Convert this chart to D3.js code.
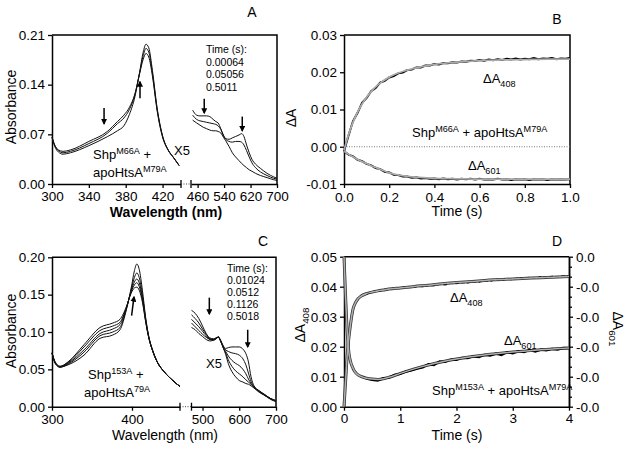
<!DOCTYPE html>
<html><head><meta charset="utf-8">
<script src="https://cdn.jsdelivr.net/npm/d3@7"></script>
<style>
body{margin:0;background:#fff;}
svg{display:block;font-family:"Liberation Sans",Arial,sans-serif;}
</style></head><body>
<svg id="chart" width="629" height="450"></svg>
<script>
// ---------- Panel A data ----------
const aTimes = ["0.00064", "0.05056", "0.5011"];
const aYTicks = [0, 0.07, 0.14, 0.21];
const aXTicksL = [300, 340, 380, 420];
const aXTicksR = [460, 540, 620, 700];
const aWlL = [300,303,307,312,320,340,360,371,378,384,390,395,399,402,405,409,414,420,426,432,438];
const aL1 = [0.066,0.055,0.048,0.046,0.048,0.060,0.0740,0.088,0.097,0.108,0.127,0.155,0.176,0.184,0.179,0.152,0.104,0.066,0.048,0.037,0.026];
const aL2 = [0.066,0.054,0.047,0.044,0.046,0.057,0.0714,0.085,0.093,0.105,0.126,0.156,0.181,0.191,0.186,0.156,0.106,0.067,0.048,0.037,0.026];
const aL3 = [0.066,0.053,0.045,0.042,0.044,0.054,0.0667,0.075,0.082,0.098,0.123,0.157,0.186,0.197,0.192,0.160,0.108,0.068,0.048,0.037,0.026];
const aWlR = [445,457,467,477,487,497,507,515,522,530,538,545,555,565,575,585,593,600,608,616,624,635,650,670,690,700];
const aR1 = [0.104,0.097,0.096,0.096,0.096,0.095,0.091,0.088,0.086,0.078,0.069,0.064,0.063,0.065,0.067,0.069,0.071,0.067,0.055,0.044,0.035,0.028,0.022,0.015,0.010,0.008];
const aR2 = [0.097,0.091,0.089,0.088,0.087,0.086,0.085,0.084,0.082,0.077,0.068,0.063,0.060,0.059,0.060,0.060,0.059,0.055,0.047,0.038,0.030,0.023,0.017,0.012,0.008,0.007];
const aR3 = [0.090,0.086,0.083,0.080,0.078,0.076,0.075,0.075,0.074,0.072,0.066,0.061,0.053,0.044,0.038,0.033,0.029,0.026,0.023,0.020,0.018,0.015,0.012,0.009,0.006,0.005];

// ---------- Panel C data ----------
const cTimes = ["0.01024", "0.0512", "0.1126", "0.5018"];
const cYTicks = [0, 0.05, 0.10, 0.15, 0.20];
const cXTicksL = [300, 400];
const cXTicksR = [500, 600, 700];
const cWlL = [300,304,310,320,340,360,376,385,393,399,403,406,409,413,417,421,426,432,440,450,460];
const cL1 = [0.072,0.060,0.054,0.060,0.083,0.106,0.112,0.117,0.134,0.152,0.159,0.160,0.156,0.140,0.114,0.092,0.074,0.059,0.047,0.036,0.027];
const cL2 = [0.072,0.059,0.054,0.059,0.080,0.102,0.108,0.113,0.133,0.154,0.163,0.166,0.161,0.143,0.115,0.092,0.074,0.059,0.047,0.036,0.027];
const cL3 = [0.072,0.059,0.053,0.058,0.076,0.098,0.104,0.110,0.132,0.155,0.167,0.171,0.166,0.146,0.116,0.093,0.074,0.059,0.047,0.036,0.027];
const cL4 = [0.072,0.058,0.053,0.057,0.073,0.095,0.100,0.106,0.131,0.157,0.173,0.179,0.173,0.150,0.118,0.093,0.075,0.059,0.047,0.036,0.027];
const cL5 = [0.072,0.058,0.053,0.056,0.069,0.0915,0.096,0.103,0.130,0.159,0.182,0.191,0.184,0.156,0.120,0.094,0.075,0.059,0.047,0.036,0.027];
const cWlR = [470,480,490,500,510,520,530,537,543,550,557,563,570,580,590,600,610,618,625,632,640,655,670,685,700];
const cR1 = [0.129,0.125,0.118,0.108,0.098,0.092,0.091,0.092,0.093,0.088,0.081,0.078,0.079,0.080,0.080,0.080,0.077,0.071,0.060,0.040,0.028,0.021,0.016,0.011,0.008];
const cR2 = [0.123,0.118,0.112,0.104,0.097,0.091,0.090,0.092,0.093,0.088,0.080,0.076,0.074,0.072,0.071,0.069,0.064,0.056,0.045,0.034,0.027,0.021,0.016,0.011,0.008];
const cR3 = [0.117,0.112,0.107,0.101,0.095,0.090,0.090,0.092,0.093,0.087,0.079,0.074,0.068,0.062,0.058,0.055,0.050,0.044,0.037,0.031,0.026,0.020,0.015,0.011,0.008];
const cR4 = [0.112,0.107,0.102,0.097,0.093,0.090,0.089,0.091,0.093,0.087,0.078,0.072,0.063,0.054,0.048,0.044,0.040,0.036,0.033,0.030,0.026,0.020,0.015,0.010,0.007];
const cR5 = [0.106,0.103,0.098,0.094,0.090,0.088,0.089,0.091,0.094,0.087,0.078,0.070,0.058,0.047,0.040,0.035,0.033,0.031,0.030,0.028,0.025,0.019,0.015,0.010,0.007];

// ---------- Panel B data ----------
const bYTicks = [-0.01, 0, 0.01, 0.02, 0.03];
const bXTicks = [0, 0.2, 0.4, 0.6, 0.8, 1.0];
const bFitT = [0,0.02,0.04,0.06,0.08,0.1,0.12,0.15,0.2,0.25,0.3,0.35,0.4,0.5,0.6,0.7,0.8,0.9,1.0];
const b408Fit = [-0.0010,0.0032,0.0066,0.0093,0.0115,0.0133,0.0148,0.0166,0.0187,0.0200,0.0209,0.0216,0.0221,0.0227,0.0231,0.0233,0.0234,0.0235,0.0235];
const b601Fit = [-0.0012,-0.0020,-0.0027,-0.0034,-0.0040,-0.0045,-0.0051,-0.0058,-0.0070,-0.0077,-0.0081,-0.0083,-0.0085,-0.0086,-0.0087,-0.0087,-0.0087,-0.0087,-0.0087];
const bDataT = [0,0.02,0.04,0.06,0.08,0.10,0.12,0.14,0.16,0.18,0.20,0.22,0.24,0.26,0.28,0.30,0.32,0.34,0.36,0.38,0.40,0.42,0.44,0.46,0.48,0.50,0.52,0.54,0.56,0.58,0.60,0.62,0.64,0.66,0.68,0.70,0.72,0.74,0.76,0.78,0.80,0.82,0.84,0.86,0.88,0.90,0.92,0.94,0.96,0.98,1.00];
const b408Data = [-0.0012,0.0030,0.0069,0.0091,0.0118,0.0131,0.0149,0.0158,0.0172,0.0177,0.0186,0.0190,0.0197,0.0199,0.0206,0.0207,0.0213,0.0213,0.0218,0.0218,0.0222,0.0221,0.0225,0.0224,0.0227,0.0226,0.0229,0.0228,0.0231,0.0230,0.0233,0.0231,0.0234,0.0232,0.0235,0.0233,0.0236,0.0234,0.0237,0.0234,0.0236,0.0235,0.0238,0.0235,0.0237,0.0236,0.0238,0.0235,0.0237,0.0236,0.0238];
const b601Data = [-0.0012,-0.0021,-0.0026,-0.0035,-0.0039,-0.0046,-0.0050,-0.0057,-0.0060,-0.0067,-0.0069,-0.0075,-0.0076,-0.0080,-0.0080,-0.0083,-0.0082,-0.0085,-0.0084,-0.0086,-0.0085,-0.0087,-0.0085,-0.0087,-0.0086,-0.0088,-0.0086,-0.0087,-0.0086,-0.0088,-0.0086,-0.0088,-0.0087,-0.0088,-0.0086,-0.0088,-0.0087,-0.0089,-0.0087,-0.0088,-0.0087,-0.0089,-0.0087,-0.0088,-0.0087,-0.0089,-0.0087,-0.0088,-0.0087,-0.0088,-0.0087];

// ---------- Panel D data ----------
const dYTicksL = [0, 0.01, 0.02, 0.03, 0.04, 0.05];
const dYTicksR = [-0.015, -0.012, -0.009, -0.006, -0.003, 0];
const dYMinorR = [-0.014,-0.013,-0.011,-0.010,-0.008,-0.007,-0.005,-0.004,-0.002,-0.001];
const dXTicks = [0, 1, 2, 3, 4];
const dFitT = [0,0.03,0.06,0.09,0.12,0.16,0.2,0.25,0.3,0.4,0.5,0.6,0.7,0.8,1.0,1.25,1.5,1.75,2.0,2.5,3.0,3.5,4.0];
const d408Fit = [0,0.009,0.018,0.0235,0.028,0.0325,0.0345,0.0360,0.0368,0.0377,0.0382,0.0386,0.0389,0.0392,0.0396,0.0401,0.0405,0.0410,0.0414,0.0421,0.0426,0.0430,0.0434];
const d601Fit = [0.0000,-0.0042,-0.0078,-0.00975,-0.01056,-0.01116,-0.01155,-0.01182,-0.01197,-0.01215,-0.01224,-0.01227,-0.01221,-0.01206,-0.01167,-0.01122,-0.01083,-0.0105,-0.01023,-0.00984,-0.00954,-0.0093,-0.00912];
const dDataT = [0.4,0.5,0.6,0.7,0.8,0.9,1.0,1.1,1.2,1.3,1.4,1.5,1.6,1.7,1.8,1.9,2.0,2.1,2.2,2.3,2.4,2.5,2.6,2.7,2.8,2.9,3.0,3.1,3.2,3.3,3.4,3.5,3.6,3.7,3.8,3.9,4.0];
const d408Data = [0.0376,0.0383,0.0385,0.0390,0.0391,0.0395,0.0395,0.0399,0.0398,0.0402,0.0401,0.0405,0.0404,0.0409,0.0407,0.0412,0.0411,0.0415,0.0413,0.0418,0.0416,0.0421,0.0419,0.0424,0.0422,0.0427,0.0424,0.0429,0.0427,0.0431,0.0428,0.0432,0.0430,0.0434,0.0432,0.0435,0.0434];
const d601Data = [-0.01218,-0.01233,-0.01239,-0.01215,-0.01209,-0.01182,-0.01173,-0.01149,-0.01137,-0.01119,-0.01107,-0.01074,-0.01083,-0.01047,-0.01053,-0.01029,-0.01032,-0.01011,-0.01014,-0.00996,-0.01005,-0.00981,-0.0099,-0.00969,-0.00984,-0.00954,-0.00966,-0.00945,-0.00954,-0.00933,-0.00948,-0.0093,-0.00936,-0.00921,-0.0093,-0.00912,-0.00915];

// ---------- helpers ----------
const svg = d3.select("#chart");
const FONT = '"Liberation Sans", Arial, sans-serif';
const loc = d3.formatLocale({decimal: ".", thousands: ",", grouping: [3], currency: ["$", ""], minus: "-"});
const TICK_FS = 13.5, TITLE_FS = 14;
const fmtRight = d => (d < 0 ? "-" : "") + Math.abs(d).toFixed(1);

function styleAxis(g) {
  g.attr("font-family", FONT).attr("font-size", TICK_FS);
  g.select(".domain").attr("stroke-width", 1.5).attr("stroke", "#000");
  g.selectAll(".tick line").attr("stroke-width", 1.3).attr("stroke", "#000");
  g.selectAll(".tick text").attr("fill", "#000");
  return g;
}
function rich(x, y, parts, fs, opts = {}) {
  const t = svg.append("text").attr("x", x).attr("y", y).attr("font-size", fs).attr("fill", "#000");
  if (opts.anchor) t.attr("text-anchor", opts.anchor);
  if (opts.weight) t.attr("font-weight", opts.weight);
  if (opts.rotate) t.attr("transform", `rotate(${opts.rotate},${x},${y})`);
  let shift = 0;
  parts.forEach(p => {
    const s = t.append("tspan").text(p.t);
    const target = p.sup ? -0.42 * fs : p.sub ? 0.32 * fs : 0;
    if (target !== shift) { s.attr("dy", target - shift); shift = target; }
    if (p.sup || p.sub) s.attr("font-size", fs * 0.7);
  });
  return t;
}
const defs = svg.append("defs");
defs.append("marker").attr("id", "ah").attr("viewBox", "0 0 10 10").attr("refX", 8).attr("refY", 5)
  .attr("markerWidth", 6).attr("markerHeight", 6).attr("orient", "auto-start-reverse").attr("markerUnits", "userSpaceOnUse")
  .append("path").attr("d", "M0,0L10,5L0,10z").attr("fill", "#000");
function arrow(x1, y1, x2, y2) {
  svg.append("line").attr("x1", x1).attr("y1", y1).attr("x2", x2).attr("y2", y2)
    .attr("stroke", "#000").attr("stroke-width", 1.5).attr("marker-end", "url(#ah)");
}
function zipXY(xs, ys) { return xs.map((x, i) => [x, ys[i]]); }

// ---------- spectra panel builder (A and C) ----------
function spectraPanel(cfg) {
  const {xL, xR, y} = cfg;
  const x0 = xL.range()[0], x1 = xR.range()[1], yb = y.range()[0], yt = y.range()[1];
  svg.append("path").attr("d", `M${x0},${yt}H${x1}V${yb}`).attr("fill", "none").attr("stroke", "#000").attr("stroke-width", 1.5);
  styleAxis(svg.append("g").attr("transform", `translate(${x0},0)`)
    .call(d3.axisLeft(y).tickValues(cfg.yTicks).tickFormat(d3.format(".2f")).tickSize(4).tickSizeOuter(0)));
  styleAxis(svg.append("g").attr("transform", `translate(0,${yb})`)
    .call(d3.axisBottom(xL).tickValues(cfg.xTicksL).tickSize(4).tickPadding(cfg.pad).tickSizeOuter(0)));
  styleAxis(svg.append("g").attr("transform", `translate(0,${yb})`)
    .call(d3.axisBottom(xR).tickValues(cfg.xTicksR).tickSize(4).tickPadding(cfg.pad).tickSizeOuter(0)));
  [xL.range()[1], xR.range()[0]].forEach(bx => {
    svg.append("line").attr("x1", bx).attr("x2", bx).attr("y1", yb - 4).attr("y2", yb + 4).attr("stroke", "#000").attr("stroke-width", 1.3);
  });
  svg.append("line").attr("x1", xL.range()[1]).attr("x2", xR.range()[0]).attr("y1", yb).attr("y2", yb)
    .attr("stroke", "#444").attr("stroke-width", 1).attr("stroke-dasharray", "1,1.5");
  const lineL = d3.line().x(d => xL(d[0])).y(d => y(d[1])).curve(d3.curveMonotoneX);
  const lineR = d3.line().x(d => xR(d[0])).y(d => y(d[1])).curve(d3.curveMonotoneX);
  cfg.left.forEach(s => svg.append("path").attr("d", lineL(zipXY(cfg.wlL, s))).attr("fill", "none").attr("stroke", "#111").attr("stroke-width", 1));
  cfg.right.forEach(s => svg.append("path").attr("d", lineR(zipXY(cfg.wlR, s))).attr("fill", "none").attr("stroke", "#111").attr("stroke-width", 1));
}

// ===== Panel A =====
const axL = d3.scaleLinear().domain([300, 440]).range([52, 181]);
const axR = d3.scaleLinear().domain([440, 700]).range([191, 277]);
const ay = d3.scaleLinear().domain([0, 0.21]).range([184, 35]);
spectraPanel({xL: axL, xR: axR, y: ay, yTicks: aYTicks, xTicksL: aXTicksL, xTicksR: aXTicksR, pad: 3,
  wlL: aWlL, wlR: aWlR, left: [aL1, aL2, aL3], right: [aR1, aR2, aR3]});
svg.append("text").attr("x", 252).attr("y", 17).attr("text-anchor", "middle").attr("font-size", 14).text("A");
svg.append("text").attr("transform", "rotate(-90,16,107)").attr("x", 16).attr("y", 107).attr("text-anchor", "middle").attr("font-size", TITLE_FS).text("Absorbance");
svg.append("text").attr("x", 166).attr("y", 217).attr("text-anchor", "middle").attr("font-size", TITLE_FS).attr("font-weight", "bold").text("Wavelength (nm)");
svg.append("text").attr("x", 206).attr("y", 53).attr("font-size", 10.5).text("Time (s):");
aTimes.forEach((t, i) => svg.append("text").attr("x", 206).attr("y", 65.7 + i * 12.5).attr("font-size", 10.5).text(t));
rich(93, 159, [{t: "Shp"}, {t: "M66A", sup: true}, {t: "  +"}], 13);
rich(93, 177, [{t: "apoHtsA"}, {t: "M79A", sup: true}], 13);
svg.append("text").attr("x", 174).attr("y", 155).attr("font-size", 13).text("X5");
arrow(axL(356.5), ay(0.107), axL(356.5), ay(0.085));
arrow(axL(395.5), ay(0.121), axL(395.5), ay(0.144));
arrow(axR(480), ay(0.120), axR(480), ay(0.100));
arrow(axR(595), ay(0.095), axR(595), ay(0.075));

// ===== Panel C =====
const cxL = d3.scaleLinear().domain([300, 460]).range([52, 180]);
const cxR = d3.scaleLinear().domain([470, 700]).range([191.5, 276]);
const cy = d3.scaleLinear().domain([0, 0.20]).range([406.7, 257.3]);
spectraPanel({xL: cxL, xR: cxR, y: cy, yTicks: cYTicks, xTicksL: cXTicksL, xTicksR: cXTicksR, pad: 4,
  wlL: cWlL, wlR: cWlR, left: [cL1, cL2, cL3, cL4, cL5], right: [cR1, cR2, cR3, cR4, cR5]});
svg.append("text").attr("x", 263).attr("y", 246).attr("text-anchor", "middle").attr("font-size", 14).text("C");
svg.append("text").attr("transform", "rotate(-90,16,331)").attr("x", 16).attr("y", 331).attr("text-anchor", "middle").attr("font-size", TITLE_FS).text("Absorbance");
svg.append("text").attr("x", 165).attr("y", 440).attr("text-anchor", "middle").attr("font-size", TITLE_FS).text("Wavelength (nm)");
svg.append("text").attr("x", 227).attr("y", 271.5).attr("font-size", 10.5).text("Time (s):");
cTimes.forEach((t, i) => svg.append("text").attr("x", 227).attr("y", 283.5 + i * 12).attr("font-size", 10.5).text(t));
rich(88, 379, [{t: "Shp"}, {t: "153A", sup: true}, {t: "  +"}], 13);
rich(84, 397, [{t: "apoHtsA"}, {t: "79A", sup: true}], 13);
svg.append("text").attr("x", 206).attr("y", 368).attr("font-size", 13).text("X5");
arrow(cxL(399.5), cy(0.122), cxL(402.5), cy(0.147));
arrow(cxR(518.5), cy(0.146), cxR(518.5), cy(0.124));
arrow(cxR(623), cy(0.103), cxR(623), cy(0.080));

// ===== Panel B =====
const bx = d3.scaleLinear().domain([0, 1]).range([344, 570]);
const by = d3.scaleLinear().domain([-0.01, 0.03]).range([184, 35]);
svg.append("path").attr("d", `M344,35H570V184`).attr("fill", "none").attr("stroke", "#000").attr("stroke-width", 1.5);
styleAxis(svg.append("g").attr("transform", "translate(344,0)")
  .call(d3.axisLeft(by).tickValues(bYTicks).tickFormat(loc.format(".2f")).tickSize(4).tickSizeOuter(0)));
styleAxis(svg.append("g").attr("transform", "translate(0,184)")
  .call(d3.axisBottom(bx).tickValues(bXTicks).tickFormat(d3.format(".1f")).tickSize(4).tickPadding(4).tickSizeOuter(0)));
svg.append("line").attr("x1", bx(0)).attr("x2", bx(1)).attr("y1", by(0)).attr("y2", by(0))
  .attr("stroke", "#777").attr("stroke-width", 1).attr("stroke-dasharray", "1,1.5");
const bLineData = d3.line().x(d => bx(d[0])).y(d => by(d[1]));
const bLineFit = d3.line().x(d => bx(d[0])).y(d => by(d[1])).curve(d3.curveMonotoneX);
[b408Data, b601Data].forEach(s => svg.append("path").attr("d", bLineData(zipXY(bDataT, s))).attr("fill", "none").attr("stroke", "#000").attr("stroke-width", 2));
[b408Fit, b601Fit].forEach(s => svg.append("path").attr("d", bLineFit(zipXY(bFitT, s))).attr("fill", "none").attr("stroke", "#aaa").attr("stroke-width", 1.8));
svg.append("text").attr("x", 557).attr("y", 24).attr("text-anchor", "middle").attr("font-size", 14).text("B");
svg.append("text").attr("transform", "rotate(-90,296,118)").attr("x", 296).attr("y", 118).attr("text-anchor", "middle").attr("font-size", TITLE_FS).text("ΔA");
svg.append("text").attr("x", 457).attr("y", 216).attr("text-anchor", "middle").attr("font-size", TITLE_FS).text("Time (s)");
rich(483, 83, [{t: "ΔA"}, {t: "408", sub: true}], 13);
rich(412, 137, [{t: "Shp"}, {t: "M66A", sup: true}, {t: " + apoHtsA"}, {t: "M79A", sup: true}], 13);
rich(468, 170, [{t: "ΔA"}, {t: "601", sub: true}], 13);

// ===== Panel D =====
const dx = d3.scaleLinear().domain([0, 4]).range([344, 569]);
const dyL = d3.scaleLinear().domain([0, 0.05]).range([406.7, 256.7]);
const dyR = d3.scaleLinear().domain([-0.015, 0]).range([406.7, 256.7]);
svg.append("line").attr("x1", 344).attr("x2", 569).attr("y1", 256.7).attr("y2", 256.7).attr("stroke", "#000").attr("stroke-width", 1.5);
styleAxis(svg.append("g").attr("transform", "translate(344,0)")
  .call(d3.axisLeft(dyL).tickValues(dYTicksL).tickFormat(d3.format(".2f")).tickSize(4).tickSizeOuter(0)));
styleAxis(svg.append("g").attr("transform", "translate(569,0)")
  .call(d3.axisRight(dyR).tickValues(dYTicksR).tickFormat(fmtRight).tickSize(4).tickSizeOuter(0)));
styleAxis(svg.append("g").attr("transform", "translate(569,0)")
  .call(d3.axisRight(dyR).tickValues(dYMinorR).tickFormat("").tickSize(3).tickSizeOuter(0)));
styleAxis(svg.append("g").attr("transform", "translate(0,406.7)")
  .call(d3.axisBottom(dx).tickValues(dXTicks).tickFormat(d3.format("d")).tickSize(4).tickPadding(3).tickSizeOuter(0)));
const dLine408 = d3.line().x(d => dx(d[0])).y(d => dyL(d[1]));
const dLine601 = d3.line().x(d => dx(d[0])).y(d => dyR(d[1]));
const dFit408 = d3.line().x(d => dx(d[0])).y(d => dyL(d[1])).curve(d3.curveMonotoneX);
const dFit601 = d3.line().x(d => dx(d[0])).y(d => dyR(d[1])).curve(d3.curveMonotoneX);
svg.append("path").attr("d", dFit408(zipXY(dFitT, d408Fit))).attr("fill", "none").attr("stroke", "#333").attr("stroke-width", 3);
svg.append("path").attr("d", dFit601(zipXY(dFitT, d601Fit))).attr("fill", "none").attr("stroke", "#333").attr("stroke-width", 3);
svg.append("path").attr("d", dLine408(zipXY(dDataT, d408Data))).attr("fill", "none").attr("stroke", "#000").attr("stroke-width", 1.6).attr("stroke-dasharray", "4,2");
svg.append("path").attr("d", dLine601(zipXY(dDataT, d601Data))).attr("fill", "none").attr("stroke", "#000").attr("stroke-width", 2.2);
svg.append("path").attr("d", dFit408(zipXY(dFitT, d408Fit))).attr("fill", "none").attr("stroke", "#b0b0b0").attr("stroke-width", 1.5);
svg.append("path").attr("d", dFit601(zipXY(dFitT, d601Fit))).attr("fill", "none").attr("stroke", "#b0b0b0").attr("stroke-width", 1.5);
svg.append("text").attr("x", 557).attr("y", 246).attr("text-anchor", "middle").attr("font-size", 14).text("D");
rich(305, 325, [{t: "ΔA"}, {t: "408", sub: true}], TITLE_FS, {anchor: "middle", rotate: -90});
rich(613, 329, [{t: "ΔA"}, {t: "601", sub: true}], TITLE_FS, {anchor: "middle", rotate: 90});
svg.append("text").attr("x", 457).attr("y", 440).attr("text-anchor", "middle").attr("font-size", TITLE_FS).text("Time (s)");
rich(450, 302, [{t: "ΔA"}, {t: "408", sub: true}], 13);
rich(504, 345, [{t: "ΔA"}, {t: "601", sub: true}], 13);
rich(432, 395, [{t: "Shp"}, {t: "M153A", sup: true}, {t: " + apoHtsA"}, {t: "M79A", sup: true}], 13);
</script>
</body></html>
